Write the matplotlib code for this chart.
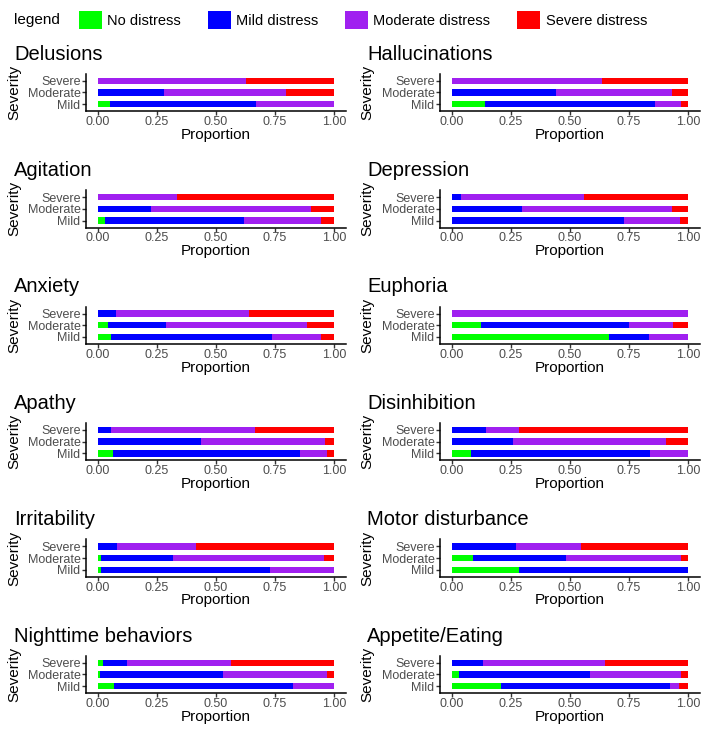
import matplotlib
matplotlib.use("Agg")
import matplotlib.pyplot as plt
from matplotlib.patches import Patch
import numpy as np

plt.rcParams['font.family'] = ['Liberation Sans', 'DejaVu Sans']

# ---- data -------------------------------------------------------------
symptoms = ["Delusions", "Hallucinations", "Agitation", "Depression",
            "Anxiety", "Euphoria", "Apathy", "Disinhibition",
            "Irritability", "Motor disturbance", "Nighttime behaviors",
            "Appetite/Eating"]
severity = ["Mild", "Moderate", "Severe"]
distress = ["No distress", "Mild distress", "Moderate distress", "Severe distress"]
colors = ["#00FF00", "#0000FF", "#A020F0", "#FF0000"]

# proportions per severity row (Mild, Moderate, Severe) x distress level
delusions      = [[0.05, 0.62, 0.33, 0.00], [0.00, 0.28, 0.515, 0.205], [0.00, 0.00, 0.625, 0.375]]
hallucinations = [[0.14, 0.72, 0.11, 0.03], [0.00, 0.44, 0.49, 0.07], [0.00, 0.00, 0.635, 0.365]]
agitation      = [[0.03, 0.59, 0.325, 0.055], [0.00, 0.225, 0.675, 0.10], [0.00, 0.00, 0.333, 0.667]]
depression     = [[0.00, 0.73, 0.237, 0.033], [0.00, 0.295, 0.635, 0.07], [0.00, 0.04, 0.52, 0.44]]
anxiety        = [[0.055, 0.68, 0.21, 0.055], [0.045, 0.245, 0.595, 0.115], [0.00, 0.075, 0.565, 0.36]]
euphoria       = [[0.667, 0.167, 0.166, 0.00], [0.125, 0.625, 0.1875, 0.0625], [0.00, 0.00, 1.00, 0.00]]
apathy         = [[0.065, 0.79, 0.115, 0.03], [0.00, 0.435, 0.525, 0.04], [0.00, 0.055, 0.612, 0.333]]
disinhibition  = [[0.08, 0.76, 0.16, 0.00], [0.00, 0.26, 0.645, 0.095], [0.00, 0.143, 0.143, 0.714]]
irritability   = [[0.012, 0.718, 0.27, 0.00], [0.012, 0.308, 0.635, 0.045], [0.00, 0.083, 0.334, 0.583]]
motor          = [[0.286, 0.714, 0.00, 0.00], [0.09, 0.395, 0.485, 0.03], [0.00, 0.273, 0.272, 0.455]]
nighttime      = [[0.068, 0.757, 0.175, 0.00], [0.008, 0.522, 0.438, 0.032], [0.02, 0.105, 0.438, 0.437]]
appetite       = [[0.207, 0.718, 0.038, 0.037], [0.032, 0.551, 0.385, 0.032], [0.00, 0.13, 0.517, 0.353]]

panels = [delusions, hallucinations, agitation, depression, anxiety, euphoria,
          apathy, disinhibition, irritability, motor, nighttime, appetite]

# ---- layout (pixel based) --------------------------------------------
W, H = 709, 739
fig = plt.figure(figsize=(W / 100, H / 100), dpi=100)

col_x = [(86, 346), (440, 700)]
title_x = [14, 367]
row_top0, row_step, ax_h = 73.7, 116.4, 37.5

def frac_rect(x0, x1, top, h):
    return [x0 / W, 1 - (top + h) / H, (x1 - x0) / W, h / H]

for i, (name, vals) in enumerate(zip(symptoms, panels)):
    r, c = divmod(i, 2)
    x0, x1 = col_x[c]
    top = row_top0 + r * row_step
    ax = fig.add_axes(frac_rect(x0, x1, top, ax_h))
    vals = np.array(vals)
    left = np.zeros(len(severity))
    for j in range(len(distress)):
        ax.barh(np.arange(len(severity)), vals[:, j], left=left, height=0.55,
                color=colors[j], linewidth=0)
        left += vals[:, j]
    ax.set_xlim(-0.05, 1.05)
    ax.set_ylim(-0.6, 2.6)
    ax.set_yticks(range(len(severity)))
    ax.set_yticklabels(severity)
    ax.set_xticks([0, 0.25, 0.5, 0.75, 1.0])
    ax.set_xticklabels(["0.00", "0.25", "0.50", "0.75", "1.00"])
    ax.tick_params(labelsize=9, labelcolor="#4D4D4D", length=3, width=1.0,
                   color="#333333", pad=1)
    ax.tick_params(axis="x", pad=0.5)
    for s in ["top", "right"]:
        ax.spines[s].set_visible(False)
    for s in ["left", "bottom"]:
        ax.spines[s].set_linewidth(1.1)
    # titles and axis labels
    fig.text(title_x[c] / W, 1 - (top - 14) / H, name, fontsize=14.5,
             ha="left", va="baseline")
    fig.text((x0 + x1) / 2 / W, 1 - (top + ax_h + 16.5) / H, "Proportion",
             fontsize=11, ha="center", va="top")
    fig.text((title_x[c]) / W, 1 - (top + ax_h / 2) / H, "Severity",
             fontsize=11, rotation=90, ha="center", va="center")

# ---- legend ------------------------------------------------------------
fig.text(14 / W, 1 - 20 / H, "legend", fontsize=11, ha="left", va="center")
handles = [Patch(facecolor=col, edgecolor="none", label=lab)
           for col, lab in zip(colors, distress)]
fig.legend(handles=handles, loc="center left", bbox_to_anchor=(79 / W, 1 - 20 / H),
           ncol=4, frameon=False, fontsize=10.5, handlelength=1.58, handleheight=1.58,
           handletextpad=0.35, columnspacing=1.85, borderaxespad=0, borderpad=0)

fig.savefig("out.png", dpi=100)
